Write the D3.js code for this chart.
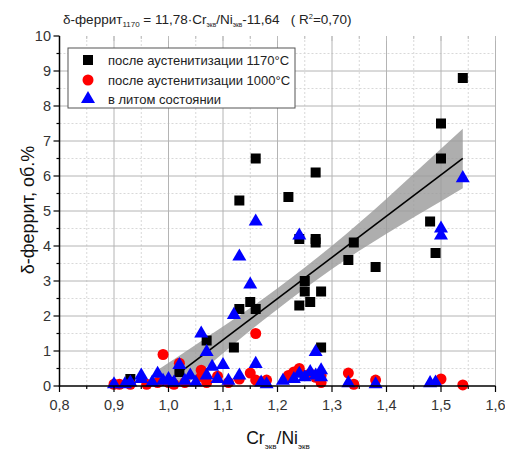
<!DOCTYPE html>
<html>
<head>
<meta charset="utf-8">
<script src="https://cdn.jsdelivr.net/npm/d3@7"></script>
<style>
  html, body { margin: 0; padding: 0; background: #fff; }
  svg { display: block; font-family: 'Liberation Sans', Arial, sans-serif; }
</style>
</head>
<body>
<div id="chart"></div>
<script>
// after austenitization 1170 C
const ser1170 = [
  [0.93, 0.2], [1.02, 0.4], [1.07, 1.3], [1.12, 1.1], [1.13, 2.2], [1.15, 2.4],
  [1.16, 2.2], [1.13, 5.3], [1.16, 6.5], [1.22, 5.4], [1.24, 4.2], [1.27, 4.2],
  [1.27, 4.1], [1.25, 3.0], [1.25, 2.7], [1.24, 2.3], [1.26, 2.4], [1.28, 2.7],
  [1.28, 1.1], [1.27, 6.1], [1.33, 3.6], [1.34, 4.1], [1.38, 3.4], [1.48, 4.7],
  [1.49, 3.8], [1.50, 6.5], [1.50, 7.5], [1.54, 8.8]
];
// after austenitization 1000 C
const ser1000 = [
  [0.90, 0.05], [0.91, 0.05], [0.93, 0.05], [0.96, 0.05], [0.98, 0.1], [0.99, 0.9],
  [1.00, 0.1], [1.01, 0.05], [1.02, 0.65], [1.03, 0.1], [1.06, 0.45], [1.06, 0.27],
  [1.07, 0.1], [1.09, 0.28], [1.11, 0.1], [1.13, 0.2], [1.15, 0.37], [1.16, 1.5],
  [1.16, 0.17], [1.18, 0.17], [1.22, 0.3], [1.23, 0.4], [1.24, 0.5], [1.25, 0.3],
  [1.26, 0.35], [1.27, 0.25], [1.28, 0.3], [1.28, 0.1], [1.33, 0.37], [1.34, 0.05],
  [1.38, 0.17], [1.50, 0.2], [1.54, 0.03]
];
// as cast
const serCast = [
  [0.90, 0.05], [0.92, 0.05], [0.93, 0.1], [0.95, 0.2], [0.95, 0.3], [0.97, 0.1],
  [0.98, 0.35], [0.99, 0.15], [1.00, 0.2], [1.01, 0.1], [1.02, 0.6], [1.03, 0.15],
  [1.04, 0.3], [1.05, 0.1], [1.06, 1.5], [1.07, 0.97], [1.07, 0.3], [1.08, 0.55],
  [1.09, 0.2], [1.10, 0.6], [1.11, 0.15], [1.12, 2.03], [1.13, 3.7], [1.13, 0.3],
  [1.15, 2.9], [1.16, 4.7], [1.16, 0.63], [1.17, 0.1], [1.18, 0.05], [1.21, 0.15],
  [1.23, 0.2], [1.24, 4.3], [1.24, 0.35], [1.25, 0.25], [1.26, 0.4], [1.27, 0.97],
  [1.27, 0.3], [1.28, 0.45], [1.28, 0.25], [1.33, 0.08], [1.38, 0.05], [1.48, 0.08],
  [1.49, 0.1], [1.50, 4.3], [1.50, 4.5], [1.54, 5.94]
];
// fit: y = 11.78x - 11.64, confidence band
const fitSlope = 11.78, fitIntercept = -11.64;
const fitRange = [0.98, 1.54];
const bandX =    [0.98, 1.05, 1.10, 1.15, 1.20, 1.25, 1.30, 1.35, 1.40, 1.45, 1.50, 1.54];
const bandHalf = [0.55, 0.45, 0.38, 0.32, 0.30, 0.30, 0.33, 0.40, 0.50, 0.62, 0.75, 0.85];

const xTicks = [0.8, 0.9, 1.0, 1.1, 1.2, 1.3, 1.4, 1.5, 1.6];
const yTicks = [0, 1, 2, 3, 4, 5, 6, 7, 8, 9, 10];
const legendLabels = ['после аустенитизации 1170°C', 'после аустенитизации 1000°C', 'в литом состоянии'];

const width = 505, height = 451;
const svg = d3.select('#chart').append('svg').attr('width', width).attr('height', height);

const x = d3.scaleLinear().domain([0.8, 1.6]).range([59.5, 495.5]);
const y = d3.scaleLinear().domain([0, 10]).range([386, 36]);
const fmt = (d) => d3.format('.1f')(d).replace('.', ',');

const defs = svg.append('defs');
defs.append('clipPath').attr('id', 'plotclip')
  .append('rect').attr('x', x(0.8)).attr('y', y(10)).attr('width', x(1.6) - x(0.8)).attr('height', y(0) - y(10));

// grid
const grid = svg.append('g');
d3.range(0.85, 1.6, 0.1).forEach((v) => {
  grid.append('line').attr('x1', x(v)).attr('x2', x(v)).attr('y1', y(0)).attr('y2', y(10))
    .attr('stroke', '#d8d8d8').attr('stroke-dasharray', '2,2');
});
d3.range(0.5, 10, 1).forEach((v) => {
  grid.append('line').attr('x1', x(0.8)).attr('x2', x(1.6)).attr('y1', y(v)).attr('y2', y(v))
    .attr('stroke', '#d8d8d8').attr('stroke-dasharray', '2,2');
});
xTicks.slice(1).forEach((v) => {
  grid.append('line').attr('x1', x(v)).attr('x2', x(v)).attr('y1', y(0)).attr('y2', y(10))
    .attr('stroke', '#b4b4b4');
});
yTicks.slice(1, -1).forEach((v) => {
  grid.append('line').attr('x1', x(0.8)).attr('x2', x(1.6)).attr('y1', y(v)).attr('y2', y(v))
    .attr('stroke', '#b4b4b4');
});
// faint top ticks
d3.range(0.8, 1.61, 0.05).forEach((v, i) => {
  grid.append('line').attr('x1', x(v)).attr('x2', x(v)).attr('y1', y(10)).attr('y2', y(10) + (i % 2 ? 3 : 5))
    .attr('stroke', '#bbb');
});

// confidence band and fit line
const plot = svg.append('g').attr('clip-path', 'url(#plotclip)');
const band = bandX.map((bx, i) => ({ x: bx, y0: fitSlope * bx + fitIntercept - bandHalf[i], y1: fitSlope * bx + fitIntercept + bandHalf[i] }));
plot.append('path')
  .attr('d', d3.area().x((d) => x(d.x)).y0((d) => y(d.y0)).y1((d) => y(d.y1)).curve(d3.curveMonotoneX)(band))
  .attr('fill', '#9a9a9a').attr('fill-opacity', 0.8);
plot.append('line')
  .attr('x1', x(fitRange[0])).attr('y1', y(fitSlope * fitRange[0] + fitIntercept))
  .attr('x2', x(fitRange[1])).attr('y2', y(fitSlope * fitRange[1] + fitIntercept))
  .attr('stroke', '#000').attr('stroke-width', 1.6);

// markers
const pts = svg.append('g');
pts.selectAll('.sq').data(ser1170).join('rect')
  .attr('x', (d) => x(d[0]) - 5).attr('y', (d) => y(d[1]) - 5)
  .attr('width', 10).attr('height', 10).attr('fill', '#000');
pts.selectAll('.ci').data(ser1000).join('circle')
  .attr('cx', (d) => x(d[0])).attr('cy', (d) => y(d[1])).attr('r', 5.5).attr('fill', '#f00');
const tri = d3.symbol().type(d3.symbolTriangle).size(85);
pts.selectAll('.tr').data(serCast).join('path')
  .attr('d', tri).attr('transform', (d) => `translate(${x(d[0])},${y(d[1])})`).attr('fill', '#00f');

// axes
const axes = svg.append('g').attr('stroke', '#000');
axes.append('line').attr('x1', x(0.8)).attr('x2', x(0.8)).attr('y1', y(10)).attr('y2', y(0) + 0.75).attr('stroke-width', 1.5);
axes.append('line').attr('x1', x(0.8) - 0.75).attr('x2', x(1.6)).attr('y1', y(0)).attr('y2', y(0)).attr('stroke-width', 1.5);
d3.range(0, 10.01, 0.5).forEach((v, i) => {
  axes.append('line').attr('x1', x(0.8) - (i % 2 ? 3 : 6)).attr('x2', x(0.8)).attr('y1', y(v)).attr('y2', y(v)).attr('stroke-width', 1.2);
});
d3.range(0.8, 1.61, 0.05).forEach((v, i) => {
  axes.append('line').attr('x1', x(v)).attr('x2', x(v)).attr('y1', y(0)).attr('y2', y(0) + (i % 2 ? 3 : 6)).attr('stroke-width', 1.2);
});

svg.append('g').selectAll('text').data(yTicks).join('text')
  .attr('x', 51).attr('y', (d) => y(d) + 5).attr('text-anchor', 'end')
  .attr('font-size', 14.5).attr('fill', '#333').text((d) => d);
svg.append('g').selectAll('text').data(xTicks).join('text')
  .attr('x', (d) => x(d)).attr('y', 410).attr('text-anchor', 'middle')
  .attr('font-size', 14.5).attr('fill', '#333').text(fmt);

// axis titles
const xt = svg.append('text').attr('x', 278).attr('y', 444).attr('text-anchor', 'middle')
  .attr('font-size', 17.5).attr('fill', '#111');
xt.append('tspan').text('Cr');
xt.append('tspan').attr('font-size', 8).attr('dy', 5).text('экв');
xt.append('tspan').attr('dy', -5).text('/Ni');
xt.append('tspan').attr('font-size', 8).attr('dy', 5).text('экв');

svg.append('text').attr('transform', 'translate(34,210) rotate(-90)').attr('text-anchor', 'middle')
  .attr('font-size', 18).attr('fill', '#111').text('δ-феррит, об.%');

// formula title
const tt = svg.append('text').attr('x', 63).attr('y', 24).attr('font-size', 13.5).attr('fill', '#222');
tt.append('tspan').text('δ-феррит');
tt.append('tspan').attr('font-size', 8).attr('dy', 3).text('1170');
tt.append('tspan').attr('dy', -3).text('\u00a0= 11,78·Cr');
tt.append('tspan').attr('font-size', 6.5).attr('dy', 3).text('экв');
tt.append('tspan').attr('dy', -3).text('/Ni');
tt.append('tspan').attr('font-size', 6.5).attr('dy', 3).text('экв');
tt.append('tspan').attr('dy', -3).text('-11,64\u00a0\u00a0\u00a0( R');
tt.append('tspan').attr('font-size', 7.5).attr('dy', -5).text('2');
tt.append('tspan').attr('dy', 5).text('=0,70)');

// legend
const lg = svg.append('g');
lg.append('rect').attr('x', 68).attr('y', 48).attr('width', 227).attr('height', 60)
  .attr('fill', '#fff').attr('stroke', '#555').attr('stroke-width', 1);
const rows = [60, 80, 99];
lg.append('rect').attr('x', 83).attr('y', rows[0] - 5).attr('width', 10).attr('height', 10).attr('fill', '#000');
lg.append('circle').attr('cx', 88).attr('cy', rows[1]).attr('r', 5.5).attr('fill', '#f00');
lg.append('path').attr('d', tri).attr('transform', `translate(88,${rows[2]})`).attr('fill', '#00f');
lg.selectAll('.lt').data(legendLabels).join('text')
  .attr('x', 108).attr('y', (d, i) => rows[i] + 5).attr('font-size', 13).attr('fill', '#222').text((d) => d);
</script>
</body>
</html>
